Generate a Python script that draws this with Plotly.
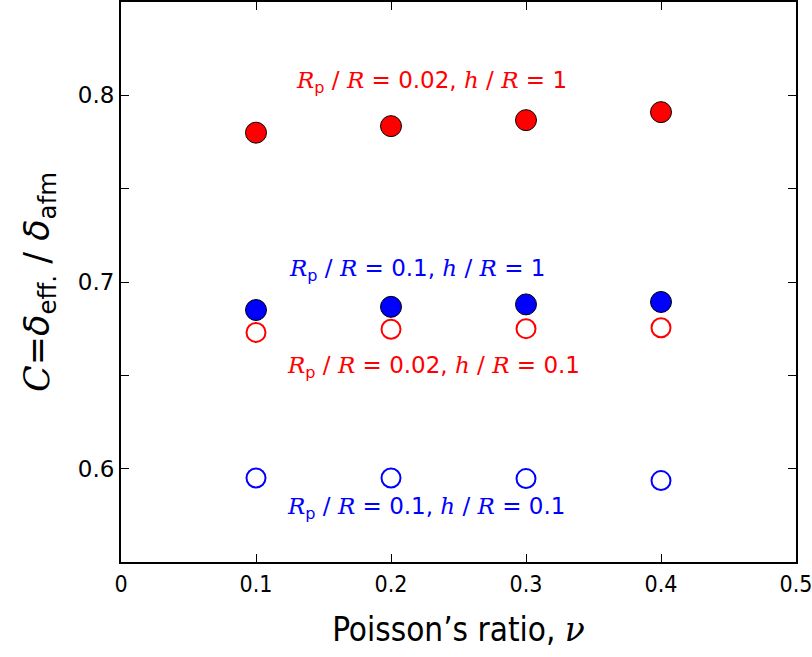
import plotly.graph_objects as go

nu = [0.1, 0.2, 0.3, 0.4]
c_red_filled = [0.780, 0.7835, 0.7867, 0.791]      # Rp/R=0.02, h/R=1
c_blue_filled = [0.685, 0.6867, 0.688, 0.6893]     # Rp/R=0.1, h/R=1
c_red_open = [0.673, 0.6747, 0.675, 0.6755]        # Rp/R=0.02, h/R=0.1
c_blue_open = [0.595, 0.595, 0.5947, 0.5936]       # Rp/R=0.1, h/R=0.1

x_ticks = [0, 0.1, 0.2, 0.3, 0.4, 0.5]
x_ticktext = ["0", "0.1", "0.2", "0.3", "0.4", "0.5"]
y_ticks = [0.6, 0.65, 0.7, 0.75, 0.8]
y_ticktext = ["0.6", "", "0.7", "", "0.8"]

SERIF = "DejaVu Serif"

def it(s):
    return f"<span style='font-family:{SERIF};font-style:italic'>{s}</span>"

def lab(rp, h):
    return (f"{it('R')}<sub>p</sub> / {it('R')} = {rp}, "
            f"{it('h')} / {it('R')} = {h}")

labels = [
    dict(x=0.23, y=0.807, text=lab("0.02", "1"), color="#ff0000"),
    dict(x=0.219, y=0.7064, text=lab("0.1", "1"), color="#0000ff"),
    dict(x=0.2315, y=0.6544, text=lab("0.02", "0.1"), color="#ff0000"),
    dict(x=0.2256, y=0.5787, text=lab("0.1", "0.1"), color="#0000ff"),
]

fig = go.Figure()
fig.add_trace(go.Scatter(x=nu, y=c_red_filled, mode="markers",
                         marker=dict(symbol="circle", size=21, color="#ff0000",
                                     line=dict(color="black", width=1))))
fig.add_trace(go.Scatter(x=nu, y=c_blue_filled, mode="markers",
                         marker=dict(symbol="circle", size=21, color="#0000ff",
                                     line=dict(color="black", width=1))))
fig.add_trace(go.Scatter(x=nu, y=c_red_open, mode="markers",
                         marker=dict(symbol="circle-open", size=19, color="#ff0000",
                                     line=dict(color="#ff0000", width=2))))
fig.add_trace(go.Scatter(x=nu, y=c_blue_open, mode="markers",
                         marker=dict(symbol="circle-open", size=19, color="#0000ff",
                                     line=dict(color="#0000ff", width=2))))

for a in labels:
    fig.add_annotation(x=a["x"], y=a["y"], text=a["text"], showarrow=False,
                       font=dict(family="DejaVu Sans", size=23, color=a["color"]))

fig.update_layout(
    width=812, height=657,
    margin=dict(l=121, r=15, t=0, b=95),
    plot_bgcolor="white", paper_bgcolor="white",
    showlegend=False,
    font=dict(family="DejaVu Sans", color="black"),
)
fig.update_xaxes(range=[0, 0.5], tickvals=x_ticks, ticktext=x_ticktext,
                 ticks="inside", ticklen=8, tickwidth=1, tickcolor="black",
                 showline=True, linecolor="black", linewidth=2, mirror="ticks",
                 showgrid=False, zeroline=False, ticklabeloverflow="allow",
                 tickfont=dict(size=23, family="DejaVu Sans Condensed"),
                 title=dict(text=f"Poisson’s ratio, {it('ν')}",
                            font=dict(size=33, family="DejaVu Sans Condensed"), standoff=22))
fig.update_yaxes(range=[0.55, 0.85], tickvals=y_ticks, ticktext=y_ticktext,
                 ticks="inside", ticklen=8, tickwidth=1, tickcolor="black",
                 showline=True, linecolor="black", linewidth=2, mirror="ticks",
                 showgrid=False, zeroline=False,
                 tickfont=dict(size=23),
                 title=dict(text=f"{it('C')}=<i>δ</i><sub>eff.</sub> / <i>δ</i><sub>afm</sub>",
                            font=dict(size=35), standoff=18))

fig.write_html("out.html")
